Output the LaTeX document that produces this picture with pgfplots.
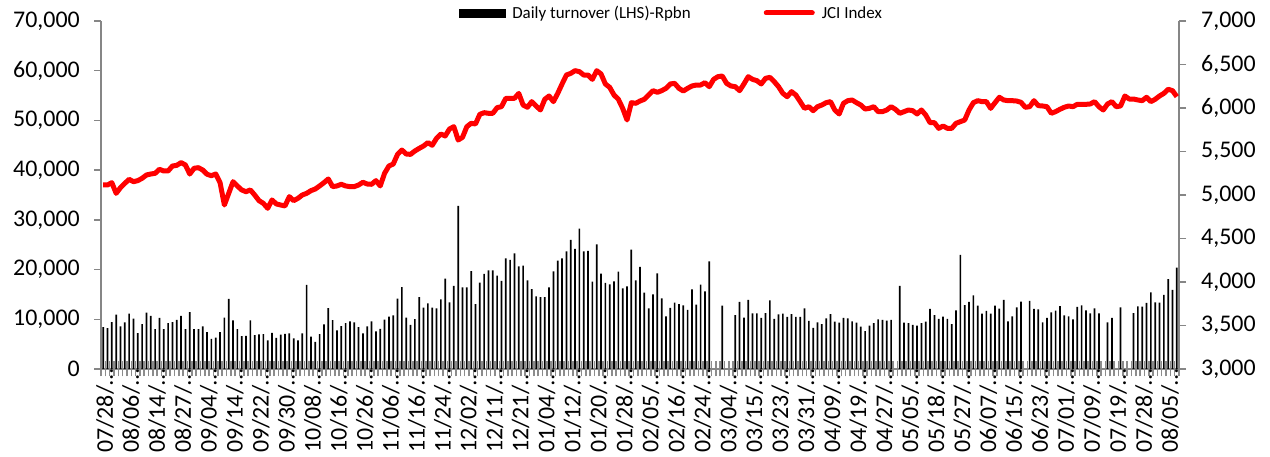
\documentclass[border=0pt]{standalone}
\usepackage{fontspec}
\setmainfont{Carlito}
\usepackage{pgfplots}
\pgfplotsset{compat=1.18}
\usepackage{pgfplotstable}
\definecolor{axgray}{RGB}{134,134,134}
\definecolor{tickgray}{RGB}{140,140,140}

\pgfplotstableread{
x y
0 8430
1 8230
2 9450
3 10950
4 8570
5 9380
6 11150
7 10130
8 7210
9 9040
10 11360
11 10680
12 8020
13 10270
14 8020
15 9250
16 9450
17 9860
18 10680
19 8020
20 11420
21 8020
22 8020
23 8570
24 7410
25 6050
26 6320
27 7410
28 10340
29 14080
30 9790
31 8020
32 6600
33 6660
34 9790
35 6800
36 6940
37 7000
38 5780
39 7280
40 6260
41 6900
42 7050
43 7180
44 6150
45 5760
46 7150
47 16920
48 6500
49 5470
50 7020
51 8980
52 12230
53 9820
54 7790
55 8600
56 9250
57 9590
58 9390
59 8400
60 7150
61 8580
62 9590
63 7560
64 8060
65 9930
66 10540
67 10800
68 14150
69 16480
70 10330
71 8850
72 10030
73 14450
74 12360
75 13200
76 12340
77 12200
78 14010
79 18170
80 13410
81 16700
82 32790
83 16430
84 16430
85 19710
86 13070
87 17370
88 19110
89 19850
90 19850
91 18770
92 17700
93 22260
94 21930
95 23270
96 20650
97 20790
98 17840
99 16090
100 14620
101 14480
102 14480
103 16430
104 19650
105 21790
106 22260
107 23670
108 25950
109 24140
110 28230
111 23670
112 23740
113 17570
114 25080
115 19180
116 17300
117 17030
118 17630
119 19580
120 16230
121 16630
122 24000
123 17840
124 20520
125 15350
126 12200
127 15020
128 19240
129 14210
130 10600
131 12270
132 13340
133 13070
134 12810
135 11870
136 16020
137 12940
138 16960
139 15620
140 21660
143 12740
146 10860
147 13480
148 10330
149 13880
150 11200
151 11200
152 10260
153 11260
154 13810
155 10060
156 11000
157 11130
158 10460
159 11060
160 10460
161 10460
162 12200
163 9660
164 8250
165 9390
166 9050
167 10190
168 11060
169 9520
170 9320
171 10260
172 10190
173 9590
174 9320
175 8520
176 7640
177 8720
178 9250
179 9990
180 9860
181 9720
182 9860
184 16700
185 9320
186 9250
187 8850
188 8720
189 9250
190 9520
191 12070
192 10860
193 10060
194 10530
195 10060
196 9050
197 11800
198 22930
199 12870
200 13480
201 14820
202 12740
203 11130
204 11670
205 11130
206 12740
207 12140
208 13880
209 9590
210 10600
211 12400
212 13540
214 13680
215 12070
216 12000
217 9390
218 10260
219 11400
220 11730
221 12670
222 10800
223 10600
224 9990
225 12470
226 12810
227 11800
228 11200
229 12200
230 11200
232 9390
233 10260
235 12400
238 11260
239 12600
240 12540
241 13280
242 15420
243 13410
244 13340
245 14890
246 18100
247 15890
248 20380
}\turnover

\pgfplotstableread{
x y
0 5115
1 5115
2 5142
3 5019
4 5084
5 5134
6 5180
7 5153
8 5165
9 5192
10 5230
11 5241
12 5249
13 5295
14 5276
15 5276
16 5333
17 5341
18 5372
19 5345
20 5241
21 5307
22 5314
23 5287
24 5238
25 5222
26 5241
27 5142
28 4885
29 5019
30 5153
31 5103
32 5058
33 5038
34 5058
35 5000
36 4935
37 4904
38 4847
39 4943
40 4897
41 4885
42 4874
43 4981
44 4935
45 4962
46 5000
47 5019
48 5050
49 5069
50 5104
51 5142
52 5184
53 5096
54 5104
55 5123
56 5104
57 5096
58 5096
59 5115
60 5146
61 5126
62 5123
63 5165
64 5104
65 5249
66 5333
67 5356
68 5467
69 5517
70 5471
71 5467
72 5506
73 5536
74 5563
75 5602
76 5571
77 5651
78 5701
79 5678
80 5759
81 5785
82 5632
83 5663
84 5785
85 5824
86 5816
87 5927
88 5946
89 5939
90 5939
91 6004
92 6015
93 6111
94 6111
95 6111
96 6168
97 6034
98 6008
99 6073
100 6023
101 5977
102 6100
103 6138
104 6073
105 6168
106 6276
107 6379
108 6398
109 6429
110 6418
111 6379
112 6379
113 6329
114 6429
115 6391
116 6276
117 6237
118 6149
119 6100
120 5996
121 5862
122 6061
123 6054
124 6080
125 6100
126 6149
127 6199
128 6180
129 6199
130 6226
131 6276
132 6283
133 6226
134 6195
135 6226
136 6253
137 6264
138 6264
139 6291
140 6245
141 6329
142 6360
143 6368
144 6283
145 6253
146 6245
147 6199
148 6276
149 6360
150 6329
151 6314
152 6276
153 6341
154 6352
155 6303
156 6245
157 6168
158 6130
159 6188
160 6149
161 6073
162 5996
163 6015
164 5969
165 6015
166 6034
167 6061
168 6073
169 5977
170 5931
171 6054
172 6084
173 6092
174 6061
175 6034
176 5988
177 5996
178 6015
179 5958
180 5958
181 5977
182 6015
183 5985
184 5939
185 5958
186 5977
187 5969
188 5931
189 5977
190 5919
191 5831
192 5831
193 5766
194 5793
195 5766
196 5766
197 5824
198 5843
199 5862
200 5977
201 6061
202 6084
203 6073
204 6073
205 5996
206 6061
207 6123
208 6092
209 6084
210 6084
211 6080
212 6065
213 6008
214 6015
215 6084
216 6027
217 6023
218 6015
219 5939
220 5958
221 5985
222 6008
223 6023
224 6015
225 6042
226 6042
227 6042
228 6046
229 6073
230 6015
231 5977
232 6046
233 6073
234 6015
235 6023
236 6138
237 6103
238 6103
239 6092
240 6084
241 6123
242 6073
243 6100
244 6138
245 6168
246 6215
247 6199
248 6130
}\jci

\pgfplotsset{
  base/.style={
    scale only axis, width=1078bp, height=348bp,
    xmin=-0.5, xmax=248.5,
    axis line style={-, draw=axgray, line width=1.5bp},
    tick label style={font=\fontsize{24}{28}\selectfont},
    /pgf/number format/assume math mode=true,
    /pgf/number format/1000 sep={,},
    scaled y ticks=false,
  }
}

\begin{document}
\begin{tikzpicture}
% left axis with bars and category ticks
\begin{axis}[base, name=ax,
  ymin=0, ymax=70000,
  axis x line*=bottom, axis y line*=left,
  ytick={0,10000,...,70000},
  tick align=center,
  major tick length=0pt,
  minor tick length=15bp,
  minor tick style={draw=tickgray, line width=1.6bp},
  xtick={2,8,...,248},
  minor xtick={-0.5,0.5,...,248.5},
  xticklabels={07/28/…,08/06/…,08/14/…,08/27/…,09/04/…,09/14/…,09/22/…,09/30/…,10/08/…,10/16/…,10/26/…,11/06/…,11/16/…,11/24/…,12/02/…,12/11/…,12/21/…,01/04/…,01/12/…,01/20/…,01/28/…,02/05/…,02/16/…,02/24/…,03/04/…,03/15/…,03/23/…,03/31/…,04/09/…,04/19/…,04/27/…,05/05/…,05/18/…,05/27/…,06/07/…,06/15/…,06/23/…,07/01/…,07/09/…,07/19/…,07/28/…,08/05/…},
  xticklabel style={rotate=90, anchor=base east, inner sep=0pt, yshift=-1bp},
  yticklabel style={anchor=east, inner sep=0pt, xshift=-21bp},
]
\addplot[ybar, bar width=1.7bp, fill=black, draw=none] table {\turnover};
\end{axis}
% left tick marks
\begin{axis}[base,
  ymin=0, ymax=70000,
  axis x line=none, axis y line*=left,
  ytick={0,10000,...,70000}, yticklabels={},
  tick align=outside, major tick length=7bp,
  ytick style={draw=axgray, line width=1.5bp},
]
\end{axis}
% right axis with JCI line
\begin{axis}[base,
  ymin=3000, ymax=7000,
  axis x line=none, axis y line*=right,
  ytick={3000,3500,...,7000},
  tick align=outside, major tick length=7bp,
  ytick style={draw=axgray, line width=1.5bp},
  yticklabel style={anchor=west, inner sep=0pt, xshift=15bp},
  legend columns=2,
  legend style={at={(0.332,1.023)}, anchor=west, draw=none, fill=none,
    inner sep=0pt, outer sep=0pt, font=\fontsize{17}{20}\selectfont,
    /tikz/every odd column/.append style={column sep=5bp},
    /tikz/every even column/.append style={column sep=71bp}},
]
\addlegendimage{legend image code/.code={\fill[black] (0bp,-4bp) rectangle (46bp,4bp);}}
\addlegendentry{Daily turnover (LHS)-Rpbn}
\addplot[red, line width=5bp, line join=round,
  legend image code/.code={\draw[red, line width=5bp, line cap=round] (0bp,0bp) -- (46bp,0bp);}]
  table {\jci};
\addlegendentry{JCI Index}
\end{axis}
\pgfresetboundingbox
\path ([xshift=-101bp,yshift=-88bp]ax.south west) rectangle ([xshift=91bp,yshift=21bp]ax.north east);
\end{tikzpicture}
\end{document}
